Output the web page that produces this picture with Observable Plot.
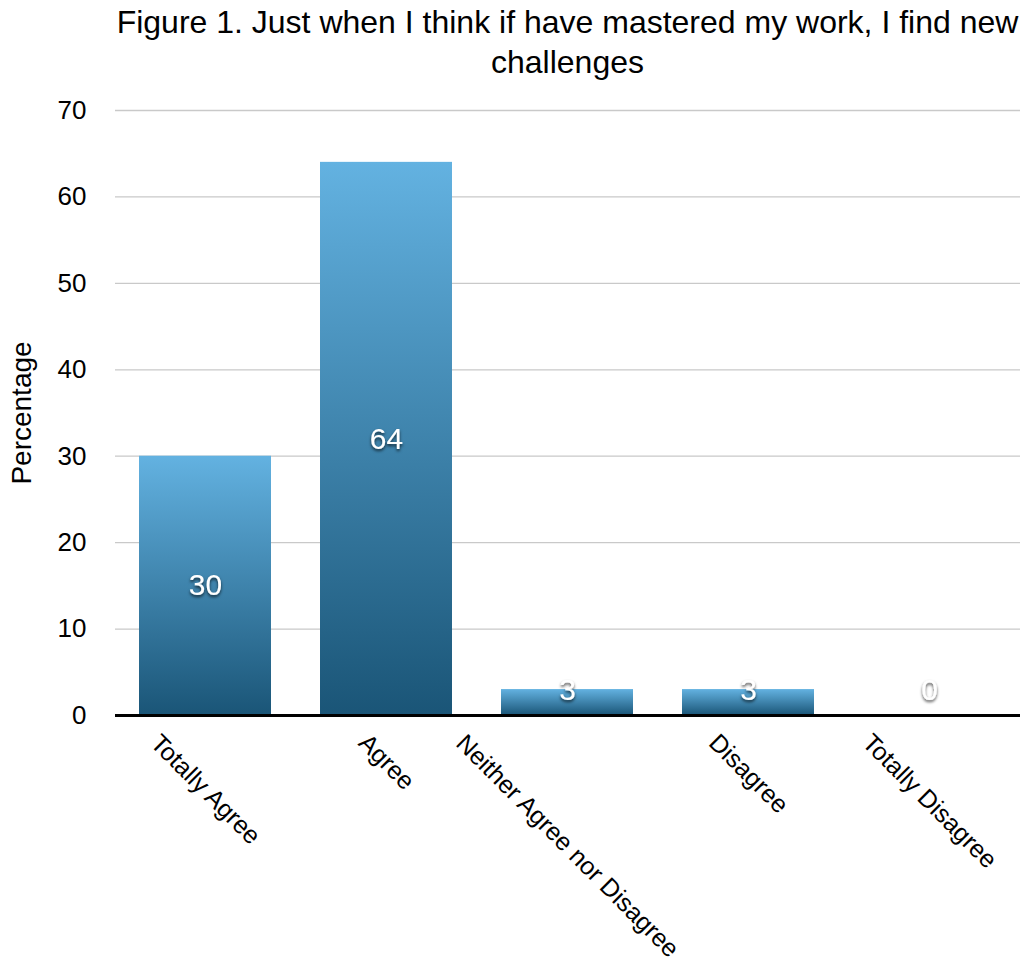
<!DOCTYPE html>
<html>
<head>
<meta charset="utf-8">
<script src="https://cdn.jsdelivr.net/npm/d3@7"></script>
<script src="https://cdn.jsdelivr.net/npm/@observablehq/plot@0.6"></script>
<style>
  body { margin: 0; background: #fff; font-family: "Liberation Sans", Arial, Helvetica, sans-serif; }
  #title {
    width: 905px; margin-left: 115px; padding-top: 2px;
    font-size: 32px; line-height: 40px; text-align: center; white-space: nowrap; color: #000;
  }
</style>
</head>
<body>
<div id="title">Figure 1. Just when I think if have mastered my work, I find new<br>challenges</div>
<div id="chart"></div>
<script>
// Survey answers and their share of respondents (%)
const categories = ["Totally Agree", "Agree", "Neither Agree nor Disagree", "Disagree", "Totally Disagree"];
const percentages = [30, 64, 3, 3, 0];
const yTicks = [0, 10, 20, 30, 40, 50, 60, 70];
const yLabel = "Percentage";

const data = categories.map((category, i) => ({category, value: percentages[i]}));

const FONT = "'Liberation Sans', Arial, Helvetica, sans-serif";
const LABEL_SIZE = 25;

// measure category label widths so each rotated label is centred under its bar
const ctx = document.createElement("canvas").getContext("2d");
ctx.font = `${LABEL_SIZE}px ${FONT}`;
const halfDiag = c => ctx.measureText(c).width / 2 * Math.SQRT1_2;

// gradient for the bars and a soft shadow for the value labels
const defs = () => {
  const d = d3.create("svg:defs");
  const g = d.append("linearGradient").attr("id", "barGradient")
    .attr("x1", 0).attr("y1", 0).attr("x2", 0).attr("y2", 1);
  g.append("stop").attr("offset", "0%").attr("stop-color", "#63b2e1");
  g.append("stop").attr("offset", "100%").attr("stop-color", "#1a5577");
  const f = d.append("filter").attr("id", "labelShadow")
    .attr("x", "-30%").attr("y", "-30%").attr("width", "160%").attr("height", "160%");
  f.append("feDropShadow").attr("dx", 0).attr("dy", 2).attr("stdDeviation", 1.6)
    .attr("flood-color", "#000").attr("flood-opacity", 0.7);
  return d.node();
};

const VALUE_FILL = "white";

const plot = Plot.plot({
  width: 1024,
  height: 889,
  marginTop: 28,
  marginBottom: 256,
  marginLeft: 115,
  marginRight: 4,
  style: {fontFamily: FONT, background: "#fff", color: "#000", overflow: "visible"},
  x: {type: "band", domain: categories, paddingInner: 0.27, paddingOuter: 0.133, axis: null},
  y: {domain: [0, 70]},
  marks: [
    defs,
    Plot.gridY(yTicks.filter(t => t > 0), {stroke: "#c9c9c9", strokeOpacity: 1, strokeWidth: 1.3}),
    Plot.axisY({ticks: yTicks, tickSize: 0, tickPadding: 29, fontSize: 26, label: null}),
    Plot.text([yLabel], {
      frameAnchor: "left", dx: -93, rotate: -90,
      textAnchor: "middle", lineAnchor: "middle", fontSize: 28, fill: "#000"
    }),
    Plot.barY(data, {x: "category", y: "value", fill: "url(#barGradient)"}),
    Plot.ruleY([0], {stroke: "#000", strokeWidth: 3}),
    Plot.text(data, {
      x: "category",
      y: d => Math.max(d.value / 2, 2.9),
      text: d => String(d.value),
      fill: VALUE_FILL,
      fontSize: 30
    }),
    ...categories.map(c => Plot.text([c], {
      x: d => d,
      frameAnchor: "bottom",
      rotate: 45,
      textAnchor: "middle",
      lineAnchor: "middle",
      fontSize: LABEL_SIZE,
      fill: "#000",
      dy: 23 + halfDiag(c)
    }))
  ]
});

// drop shadow on the white value labels
plot.querySelectorAll(`g[fill="${VALUE_FILL}"]`).forEach(g => g.setAttribute("filter", "url(#labelShadow)"));

document.getElementById("chart").appendChild(plot);
</script>
</body>
</html>
